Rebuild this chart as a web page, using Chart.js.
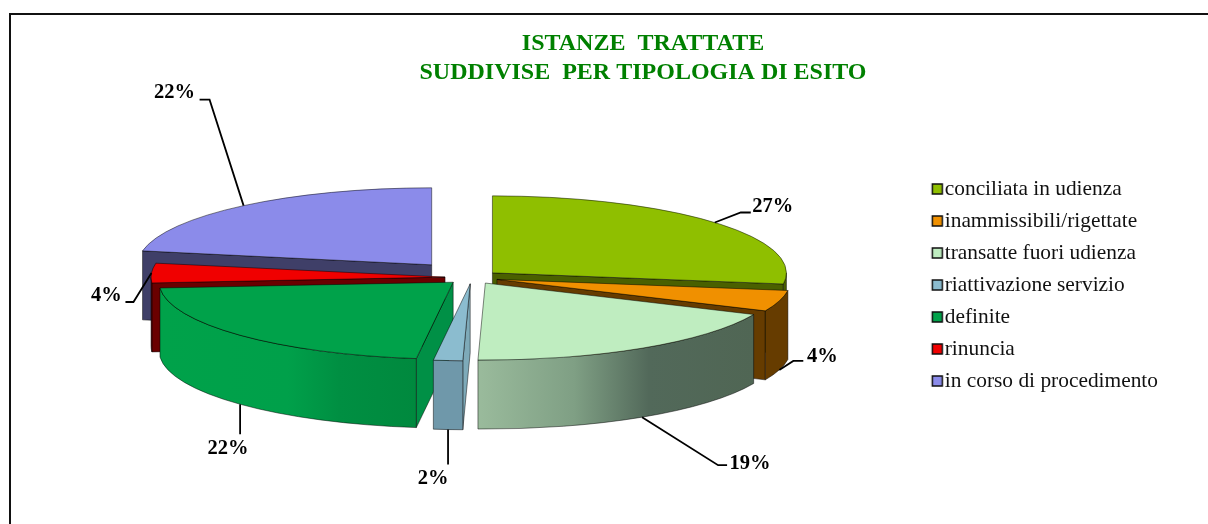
<!DOCTYPE html>
<html>
<head>
<meta charset="utf-8">
<style>
html,body{margin:0;padding:0;background:#fff;}
#wrap{position:relative;width:1208px;height:524px;overflow:hidden;}
</style>
<script src="https://cdn.jsdelivr.net/npm/chart.js@4/dist/chart.umd.min.js"></script>
</head>
<body>
<div id="wrap"><canvas id="c" width="1208" height="524"></canvas></div>
<script>
// ---- data ----
const categories = ['conciliata in udienza','inammissibili/rigettate','transatte fuori udienza','riattivazione servizio','definite','rinuncia','in corso di procedimento'];
const shares = [27.3, 4.4, 18.7, 1.6, 21.8, 4.1, 22.1];
const titleLines = ['ISTANZE  TRATTATE','SUDDIVISE  PER TIPOLOGIA DI ESITO'];

// ---- styles ----
const topColors = ['#8fbf00','#f09000','#bfedc0','#8bbccf','#00a24a','#f00000','#8b8bea'];
const wallGradients = [
  [[0,'#4a6000'],[1,'#4a6000']],
  [[0,'#663c00'],[1,'#663c00']],
  [[0,'#9abb9c'],[0.35,'#7f9f84'],[0.62,'#52695a'],[1,'#506654']],
  [[0,'#6f98aa'],[1,'#6f98aa']],
  [[0,'#00a24a'],[0.5,'#00a04a'],[0.7,'#008f42'],[1,'#00893e']],
  [[0,'#6a0000'],[1,'#6a0000']],
  [[0,'#3f3f68'],[1,'#3f3f68']]
];
const faceColors = ['#4a6000','#663c00','#52695a','#7eaab9','#009046','#6a0000','#3f3f68'];
const explode = [27,26,25,24,26,27,63];
const leaders = [
  {elbow:[26,-10],end:[36,-10],label:[58,-16]},
  {elbow:[14,-9],end:[24,-9],label:[43,-13]},
  {elbow:[76,48],end:[85,48],label:[108,47]},
  {elbow:[0,35],end:[0,35],label:[-15,49]},
  {elbow:[0,30],end:[0,30],label:[-12,44]},
  {elbow:[-18,29],end:[-26,29],label:[-45,23]},
  {elbow:[-34,-106],end:[-44,-106],label:[-69,-112.5]}
];
const view = {cx:472, cy:277.5, rx:294, ry:77, depth:69};
const legendDrop = 68;
const serif = "'Liberation Serif','Times New Roman',serif";
const total = shares.reduce((a,b)=>a+b,0);

function geometry(arc,i){
  const mid=(arc.startAngle+arc.endAngle)/2;
  const k=view.ry/view.rx;
  return {mid, tx:view.cx+explode[i]*Math.cos(mid), ty:view.cy+explode[i]*Math.sin(mid)*k};
}
function legendSwatch(color){
  const c=document.createElement('canvas'); c.width=24; c.height=16;
  const x=c.getContext('2d');
  x.fillStyle=color; x.strokeStyle='#111'; x.lineWidth=1.5;
  x.fillRect(11.5,3,10,10); x.strokeRect(11.5,3,10,10);
  return c;
}

const pie3d = {
  id:'pie3d',
  afterLayout(chart){
    chart.legend.top += legendDrop;
  },
  beforeDatasetsDraw(chart){
    const ctx=chart.ctx, arcs=chart.getDatasetMeta(0).data;
    const {rx,ry,depth}=view;
    const order=arcs.map((a,i)=>i).sort((p,q)=>{
      const mp=(arcs[p].startAngle+arcs[p].endAngle)/2, mq=(arcs[q].startAngle+arcs[q].endAngle)/2;
      return Math.sin(mp)-Math.sin(mq);
    });
    ctx.save();
    ctx.lineWidth=0.8; ctx.strokeStyle='rgba(0,0,0,0.6)'; ctx.lineJoin='round';
    for(const i of order){
      const arc=arcs[i], g=geometry(arc,i), s=arc.startAngle, e=arc.endAngle;
      const face=(a)=>{
        const x=g.tx+rx*Math.cos(a), y=g.ty+ry*Math.sin(a);
        ctx.beginPath(); ctx.moveTo(g.tx,g.ty); ctx.lineTo(x,y); ctx.lineTo(x,y+depth); ctx.lineTo(g.tx,g.ty+depth); ctx.closePath();
        ctx.fillStyle=faceColors[i]; ctx.fill(); ctx.stroke();
      };
      if(Math.cos(s)< -1e-6) face(s);
      if(Math.cos(e)> 1e-6) face(e);
      const a0=Math.max(s,0), a1=Math.min(e,Math.PI);
      if(a1>a0){
        const xa=g.tx+rx*Math.cos(a0), xb=g.tx+rx*Math.cos(a1);
        const grad=ctx.createLinearGradient(Math.min(xa,xb),0,Math.max(xa,xb),0);
        wallGradients[i].forEach(st=>grad.addColorStop(st[0],st[1]));
        ctx.beginPath();
        ctx.ellipse(g.tx,g.ty,rx,ry,0,a0,a1,false);
        ctx.ellipse(g.tx,g.ty+depth,rx,ry,0,a1,a0,true);
        ctx.closePath();
        ctx.fillStyle=grad; ctx.fill(); ctx.stroke();
      }
      ctx.save();
      ctx.translate(g.tx,g.ty);
      ctx.scale(rx/arc.outerRadius,ry/arc.outerRadius);
      ctx.translate(-arc.x,-arc.y);
      arc.draw(ctx);
      ctx.restore();
      ctx.beginPath();
      ctx.moveTo(g.tx,g.ty);
      ctx.ellipse(g.tx,g.ty,rx,ry,0,s,e,false);
      ctx.closePath();
      ctx.stroke();
    }
    ctx.restore();
    return false;
  },
  afterDraw(chart){
    const ctx=chart.ctx, arcs=chart.getDatasetMeta(0).data;
    const {rx,ry,depth}=view;
    ctx.save();
    // frame
    ctx.strokeStyle='#111'; ctx.lineWidth=2;
    ctx.beginPath(); ctx.moveTo(10,524); ctx.lineTo(10,14); ctx.lineTo(1208,14); ctx.stroke();
    // leaders and labels
    ctx.font="bold 20.5px "+serif; ctx.textAlign='center'; ctx.textBaseline='middle';
    arcs.forEach((arc,i)=>{
      const g=geometry(arc,i), L=leaders[i];
      const ax=g.tx+rx*Math.cos(g.mid);
      let ay=g.ty+ry*Math.sin(g.mid);
      if(Math.sin(g.mid)>0) ay+=depth;
      ctx.strokeStyle='#000'; ctx.lineWidth=1.8;
      ctx.beginPath(); ctx.moveTo(ax,ay); ctx.lineTo(ax+L.elbow[0],ay+L.elbow[1]); ctx.lineTo(ax+L.end[0],ay+L.end[1]); ctx.stroke();
      ctx.fillStyle='#000';
      ctx.fillText(Math.round(shares[i]/total*100)+'%',ax+L.label[0],ay+L.label[1]);
    });
    ctx.restore();
  }
};

new Chart(document.getElementById('c'),{
  type:'pie',
  data:{labels:categories,datasets:[{data:shares,backgroundColor:topColors,borderWidth:0,clip:false}]},
  options:{
    responsive:false,
    animation:false,
    events:[],
    layout:{padding:{left:118,right:40,top:29,bottom:51}},
    plugins:{
      title:{display:true,text:titleLines,color:'#008000',padding:{top:0,bottom:10},
        font:{family:serif,size:24,weight:'bold',lineHeight:1.21}},
      legend:{position:'right',labels:{
        font:{family:serif,size:21.4},color:'#111',boxHeight:11,padding:10.6,
        usePointStyle:true,pointStyleWidth:2.5,
        generateLabels(chart){
          return Chart.overrides.pie.plugins.legend.labels.generateLabels(chart).map((l,i)=>Object.assign(l,{pointStyle:legendSwatch(topColors[i])}));
        }}},
      tooltip:{enabled:false}
    }
  },
  plugins:[pie3d]
});
</script>
</body>
</html>
